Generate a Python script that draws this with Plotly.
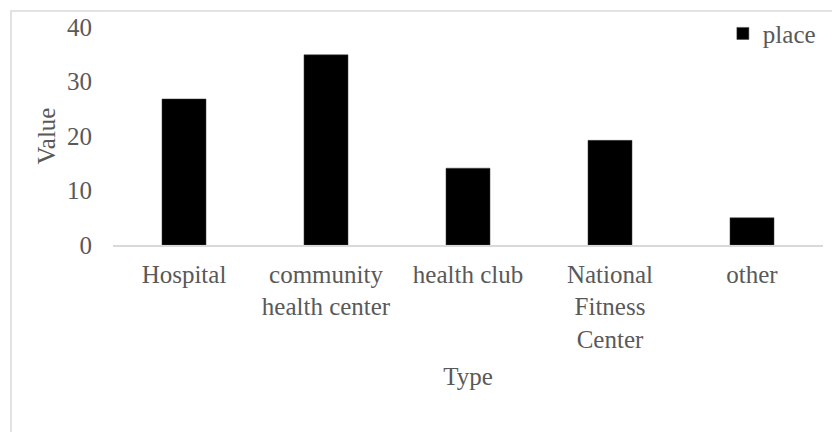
import plotly.graph_objects as go

categories = ["Hospital", "community<br>health center", "health club",
              "National<br>Fitness<br>Center", "other"]
place = [26.8, 34.9, 14.1, 19.2, 5.0]
y_ticks = [0, 10, 20, 30, 40]

FONT = "Liberation Serif, Times New Roman, serif"
GRAY = "#595959"
SIZE = 25

fig = go.Figure()
fig.add_trace(go.Bar(
    x=categories, y=place, name="place",
    marker=dict(color="#000000", line=dict(color="#404040", width=0.5)),
))

# light outer frame around the chart area
fig.add_shape(type="rect", xref="paper", yref="paper",
              x0=-0.1437, x1=1.2, y0=-1.2, y1=1.073,
              line=dict(color="#d9d9d9", width=1.5), fillcolor="rgba(0,0,0,0)",
              layer="below")

fig.update_layout(
    width=832, height=432,
    margin=dict(l=113, r=9, t=27, b=187, autoexpand=False),
    paper_bgcolor="white", plot_bgcolor="white",
    font=dict(family=FONT, size=SIZE, color=GRAY),
    bargap=0.69,
    showlegend=True,
    legend=dict(x=0.997, y=1.075, xanchor="right", yanchor="top",
                bgcolor="rgba(0,0,0,0)", font=dict(size=SIZE, color=GRAY),
                itemwidth=30, tracegroupgap=0),
    xaxis=dict(
        showline=True, linecolor="#d9d9d9", linewidth=1.5,
        showgrid=False, ticks="", ticklabelstandoff=6,
        tickfont=dict(size=SIZE, color=GRAY),
        title=dict(text="Type", font=dict(size=SIZE, color=GRAY), standoff=16),
    ),
    yaxis=dict(
        range=[0, 40], tickvals=y_ticks, showgrid=False, showline=False,
        zeroline=False, ticks="", ticklabelstandoff=20,
        tickfont=dict(size=SIZE, color=GRAY),
        title=dict(text="Value", font=dict(size=SIZE, color=GRAY), standoff=4),
    ),
)

fig.write_html("out.html")
